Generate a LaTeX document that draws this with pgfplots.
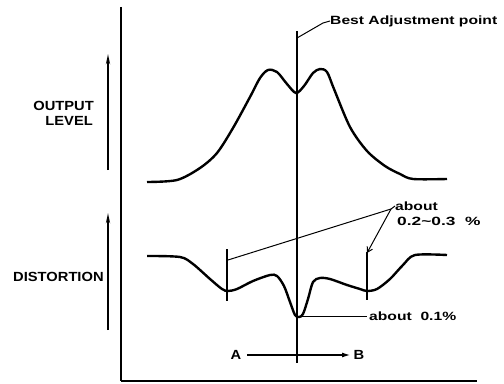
\documentclass[border=0pt]{standalone}
\usepackage{pgfplots}
\pgfplotsset{compat=1.18}
\usetikzlibrary{arrows.meta}
\usepackage{fontspec}
\setmainfont{Liberation Sans}
\newcommand{\capt}[1]{\scalebox{1.11}[1]{\bfseries\fontsize{13.3}{13.3}\selectfont #1}}
\newcommand{\lowt}[1]{\scalebox{1.31}[1]{\bfseries\fontsize{12}{12}\selectfont #1}}
\begin{document}
\begin{tikzpicture}
\begin{axis}[width=504bp,height=384bp,scale only axis,
  xmin=0,xmax=504,ymin=0,ymax=384,y dir=reverse,
  axis lines=none,clip=false]
\path (rel axis cs:0,0) rectangle (rel axis cs:1,1);
% frame axes
\addplot[black,line width=2pt] coordinates {(121,7)(121,381)};
\addplot[black,line width=1.6pt] coordinates {(121,381)(477,381)};
% output level curve
\addplot[black,line width=2.4pt,smooth,tension=0.5] coordinates {
(147,182)(177,180)(200,168)(217,153)(233,128)(250,97)(260,78)(268,70)(277,72)(287,84)(296,93)(304,86)(313,73)(320,69)(327,72)(334,89)(350,127)(367,151)(385,166)(400,174)(413,179)(447,179)};
% distortion curve
\addplot[black,line width=2.4pt,smooth,tension=0.5] coordinates {
(147,256)(180,257)(193,264)(210,279)(222,289)(228,291)(237,289)(253,281)(270,275)(277,276)(284,286)(290,302)(295,315)(299,317)(303,314)(308,299)(313,282)(320,278)(330,279)(347,285)(360,289)(367,291)(377,289)(390,279)(403,265)(415,255)(447,255)};
% best adjustment centre line
\addplot[black,line width=1.1pt] coordinates {(297,31)(297,363)};
\addplot[black,line width=1pt] coordinates {(297,38)(323,23)(330,21)};
% markers
\addplot[black,line width=1.1pt] coordinates {(227,249)(227,301)};
\addplot[black,line width=1.1pt] coordinates {(367,252)(367,300)};
% leaders
\addplot[black,line width=1pt] coordinates {(228,260)(391,209)(395,206)};
\addplot[black,line width=1pt,-{Straight Barb[length=5pt,width=6pt]}] coordinates {(391,209)(367,253)};
\addplot[black,line width=1pt] coordinates {(301,316)(367,316)};
% A -> B
\addplot[black,line width=1.1pt,-{Latex[length=8pt,width=5pt]}] coordinates {(247,355)(350,355)};
% side arrows
\addplot[black,line width=2pt,-{Stealth[length=10pt,width=4pt]}] coordinates {(108,170)(108,54)};
\addplot[black,line width=2pt,-{Stealth[length=10pt,width=4pt]}] coordinates {(108,330)(108,213)};
% texts
\node[anchor=west,inner sep=0pt] at (axis cs:330,21) {\lowt{Best Adjustment point}};
\node[anchor=east,inner sep=0pt] at (axis cs:94,106) {\capt{OUTPUT}};
\node[anchor=east,inner sep=0pt] at (axis cs:93,121) {\capt{LEVEL}};
\node[anchor=west,inner sep=0pt] at (axis cs:13,277) {\capt{DISTORTION}};
\node[anchor=west,inner sep=0pt] at (axis cs:395,206) {\lowt{about}};
\node[anchor=west,inner sep=0pt] at (axis cs:397,221) {\scalebox{1.45}[1]{\bfseries\fontsize{12}{12}\selectfont 0.2\textasciitilde0.3\ \ \%}};
\node[anchor=west,inner sep=0pt] at (axis cs:369,316) {\lowt{about\ \ 0.1\%}};
\node[anchor=center,inner sep=0pt] at (axis cs:236,355) {\capt{A}};
\node[anchor=center,inner sep=0pt] at (axis cs:359,355) {\capt{B}};
\end{axis}
\end{tikzpicture}
\end{document}
